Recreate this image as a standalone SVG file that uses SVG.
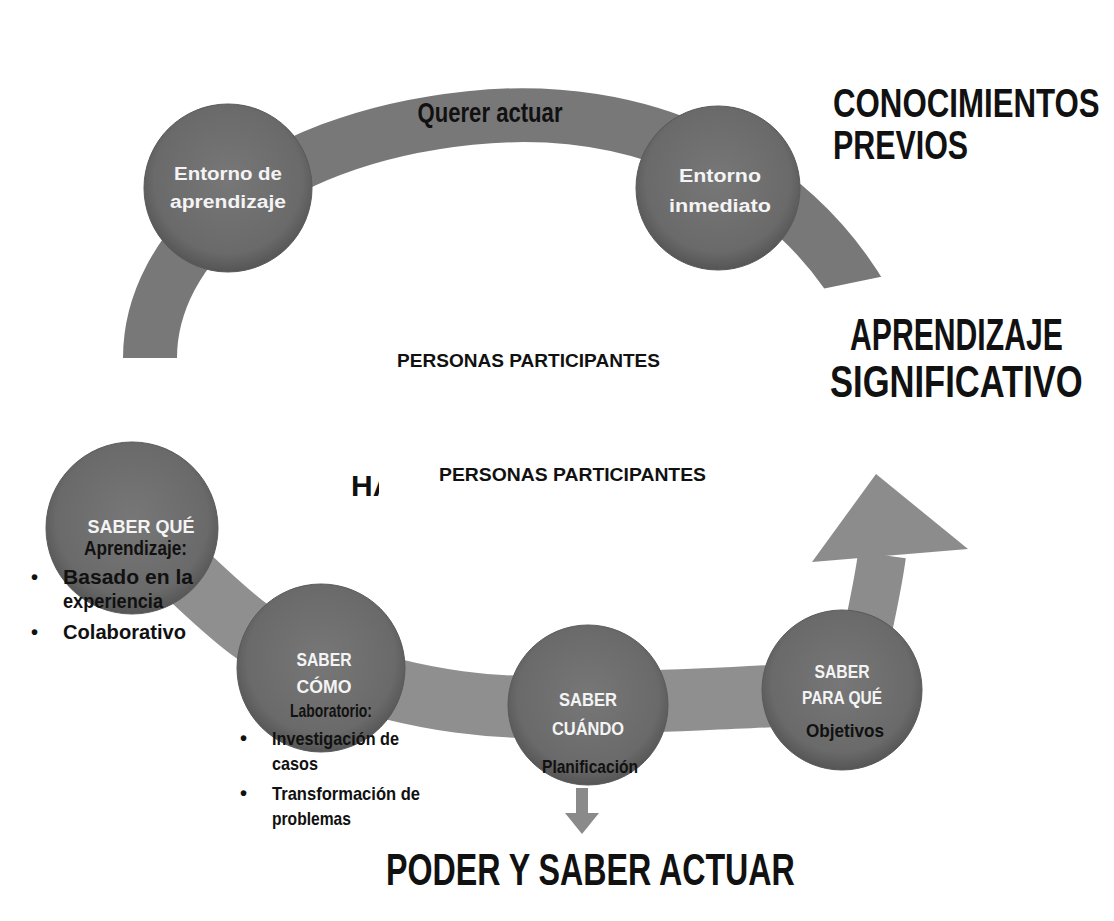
<svg xmlns="http://www.w3.org/2000/svg" width="1114" height="921" viewBox="0 0 1114 921">
<defs>
<radialGradient id="cg" cx="50%" cy="45%" r="55%">
<stop offset="0%" stop-color="#777777"/>
<stop offset="80%" stop-color="#6a6a6a"/>
<stop offset="100%" stop-color="#555555"/>
</radialGradient>
<clipPath id="haclip"><rect x="340" y="460" width="39" height="50"/></clipPath>
<clipPath id="bandclip"><polygon points="0,0 1114,0 1114,277 880,277 822,289 600,289 600,420 0,420"/></clipPath>
<style>
.node circle{fill:url(#cg);stroke:#5a5a5a;stroke-width:1}
text{font-family:"Liberation Sans",Arial,sans-serif;font-weight:bold}
.w{fill:#f4f4f4;font-size:18px;text-anchor:middle}
.w19{fill:#f4f4f4;font-size:19px;text-anchor:middle}
.b{fill:#111;font-size:19px}
.b20{fill:#111;font-size:20px}
.big{fill:#111;font-size:44px}
.big2{fill:#111;font-size:41px}
.mid{fill:#111;font-size:18px}
.q{fill:#111;font-size:27px;text-anchor:middle}
.ha{fill:#111;font-size:30px}
.c{text-anchor:middle}
</style>
</defs>
<rect width="1114" height="921" fill="#ffffff"/>
<g id="connectors">
<path d="M 150 358 C 150 250, 260 140, 470 118 C 640 100, 790 170, 866 304" fill="none" stroke="#787878" stroke-width="54" clip-path="url(#bandclip)"/>
<path d="M 132 526 C 200 580, 240 640, 321 668 C 420 702, 500 712, 588 705 C 680 698, 760 700, 842 690" fill="none" stroke="#8f8f8f" stroke-width="62"/>
<path d="M 866 640 C 872 610, 878 585, 882 555" fill="none" stroke="#8c8c8c" stroke-width="48"/>
<polygon points="876,474 812,562 968,549" fill="#8c8c8c"/>
<rect x="576" y="788" width="12" height="27" fill="#8a8a8a"/>
<polygon points="565,813 599,813 582,834" fill="#8a8a8a"/>
</g>
<text class="q" x="490" y="122" textLength="145" lengthAdjust="spacingAndGlyphs">Querer actuar</text>
<g id="n-entorno-aprendizaje" class="node">
<circle cx="228" cy="188" r="84"/>
<text class="w" x="228" y="180" textLength="108" lengthAdjust="spacingAndGlyphs">Entorno de</text>
<text class="w" x="228" y="208" textLength="116" lengthAdjust="spacingAndGlyphs">aprendizaje</text>
</g>
<g id="n-entorno-inmediato" class="node">
<circle cx="718" cy="188" r="82"/>
<text class="w" x="720" y="182" textLength="82" lengthAdjust="spacingAndGlyphs">Entorno</text>
<text class="w" x="720" y="212" textLength="102" lengthAdjust="spacingAndGlyphs">inmediato</text>
</g>
<g id="n-saber-que" class="node">
<circle cx="132" cy="528" r="86"/>
<text class="w19" x="141" y="533" textLength="107" lengthAdjust="spacingAndGlyphs">SABER QUÉ</text>
<text class="b20" x="84" y="555" textLength="103" lengthAdjust="spacingAndGlyphs">Aprendizaje:</text>
<text class="b20" x="31" y="584">•</text>
<text class="b20" x="63" y="584" textLength="130" lengthAdjust="spacingAndGlyphs">Basado en la</text>
<text class="b20" x="63" y="608" textLength="100" lengthAdjust="spacingAndGlyphs">experiencia</text>
<text class="b20" x="31" y="639">•</text>
<text class="b20" x="63" y="639" textLength="123" lengthAdjust="spacingAndGlyphs">Colaborativo</text>
</g>
<g id="n-saber-como" class="node">
<circle cx="321" cy="668" r="84"/>
<text class="w19" x="324" y="666" textLength="55" lengthAdjust="spacingAndGlyphs">SABER</text>
<text class="w19" x="324" y="693" textLength="55" lengthAdjust="spacingAndGlyphs">CÓMO</text>
<text class="b c" x="331" y="717" textLength="82" lengthAdjust="spacingAndGlyphs">Laboratorio:</text>
<text class="b20" x="240" y="745">•</text>
<text class="b" x="272" y="745" textLength="127" lengthAdjust="spacingAndGlyphs">Investigación de</text>
<text class="b" x="272" y="770" textLength="46" lengthAdjust="spacingAndGlyphs">casos</text>
<text class="b20" x="240" y="800">•</text>
<text class="b" x="272" y="800" textLength="148" lengthAdjust="spacingAndGlyphs">Transformación de</text>
<text class="b" x="272" y="825" textLength="79" lengthAdjust="spacingAndGlyphs">problemas</text>
</g>
<g id="n-saber-cuando" class="node">
<circle cx="588" cy="705" r="80"/>
<text class="w19" x="588" y="706" textLength="58" lengthAdjust="spacingAndGlyphs">SABER</text>
<text class="w19" x="588" y="735" textLength="72" lengthAdjust="spacingAndGlyphs">CUÁNDO</text>
<text class="b c" x="590" y="773" textLength="96" lengthAdjust="spacingAndGlyphs">Planificación</text>
</g>
<g id="n-saber-para-que" class="node">
<circle cx="842" cy="690" r="80"/>
<text class="w19" x="842" y="678" textLength="55" lengthAdjust="spacingAndGlyphs">SABER</text>
<text class="w19" x="842" y="704" textLength="80" lengthAdjust="spacingAndGlyphs">PARA QUÉ</text>
<text class="b c" x="845" y="737" textLength="78" lengthAdjust="spacingAndGlyphs">Objetivos</text>
</g>
<g id="labels">
<text class="big2" transform="translate(833,117) scale(0.7,1)" textLength="381" lengthAdjust="spacingAndGlyphs">CONOCIMIENTOS</text>
<text class="big2" transform="translate(833,159) scale(0.7,1)" textLength="193" lengthAdjust="spacingAndGlyphs">PREVIOS</text>
<text class="big" transform="translate(850,350) scale(0.7,1)" textLength="304" lengthAdjust="spacingAndGlyphs">APRENDIZAJE</text>
<text class="big" transform="translate(830,397) scale(0.7,1)" textLength="361" lengthAdjust="spacingAndGlyphs">SIGNIFICATIVO</text>
<text class="mid" x="397" y="367" textLength="263" lengthAdjust="spacingAndGlyphs">PERSONAS PARTICIPANTES</text>
<text class="ha" x="351" y="496" clip-path="url(#haclip)">HA</text>
<text class="mid" x="439" y="481" textLength="267" lengthAdjust="spacingAndGlyphs">PERSONAS PARTICIPANTES</text>
<text class="big" transform="translate(386,885) scale(0.7,1)" textLength="584" lengthAdjust="spacingAndGlyphs">PODER Y SABER ACTUAR</text>
</g>
</svg>
